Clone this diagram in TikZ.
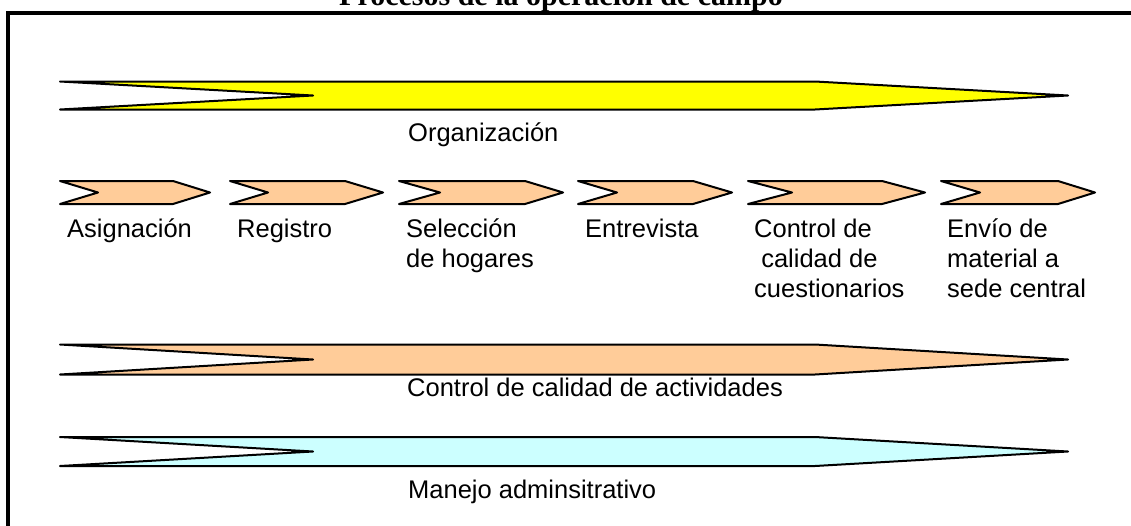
\documentclass[tikz,border=0pt]{standalone}
\usepackage{fontspec}
\setmainfont{Liberation Sans}
\newfontfamily\titlefont{Liberation Serif}
\definecolor{peach}{HTML}{FFCC99}
\definecolor{lcyan}{HTML}{CCFFFF}
\definecolor{yel}{HTML}{FFFF00}
\newcommand\bigarr[4]{%
  \filldraw[bigarrow, fill=#3] (60,#1) -- (815,#1) -- (1068,{(#1+#2)/2}) -- (815,#2) -- (60,#2) -- (313,{(#1+#2)/2}) -- cycle;}
\newcommand\mychev[4]{%
  \filldraw[chevshape] (#1,181) -- (#3,181) -- (#4,192.5) -- (#3,204) -- (#1,204) -- (#2,192.5) -- cycle;}
\begin{document}
\begin{tikzpicture}[x=1pt,y=-1pt,
  lbl/.style={font=\fontsize{25.5}{30}\selectfont, inner sep=0pt, anchor=base west, align=left},
  bigarrow/.style={draw=black, line width=2pt, line join=round},
  chevshape/.style={draw=black, line width=2pt, line join=round, fill=peach}]
\useasboundingbox (0,0) rectangle (1131,525);
\node[font=\titlefont\fontsize{30}{36}\selectfont\bfseries, inner sep=0pt, anchor=base] (title) at (561,5) {Procesos de la operación de campo};
\draw[line width=4pt] (8,540) -- (8,12.5) -- (1140,12.5);
\bigarr{81.5}{109.5}{yel}{}
\bigarr{344.5}{374.5}{peach}{}
\bigarr{437}{466}{lcyan}{}
\mychev{60}{98}{173}{210}
\mychev{230}{268}{345}{383}
\mychev{399}{440}{525}{563}
\mychev{578}{617}{693}{732}
\mychev{748}{792}{882}{925}
\mychev{941}{980}{1058}{1095}
\node[lbl] (org) at (408,141) {Organización};
\node[lbl] (asig) at (67,237) {Asignación};
\node[lbl] (reg) at (237,237) {Registro};
\node[lbl] (sel) at (406,267) {Selección\\de hogares};
\node[lbl] (ent) at (585,237) {Entrevista};
\node[lbl] (ctl) at (754,297) {Control de\\\ calidad de\\cuestionarios};
\node[lbl] (env) at (947,297) {Envío de\\material a\\sede central};
\node[lbl] (cca) at (407,396) {Control de calidad de actividades};
\node[lbl] (man) at (408,498) {Manejo adminsitrativo};
\end{tikzpicture}
\end{document}
